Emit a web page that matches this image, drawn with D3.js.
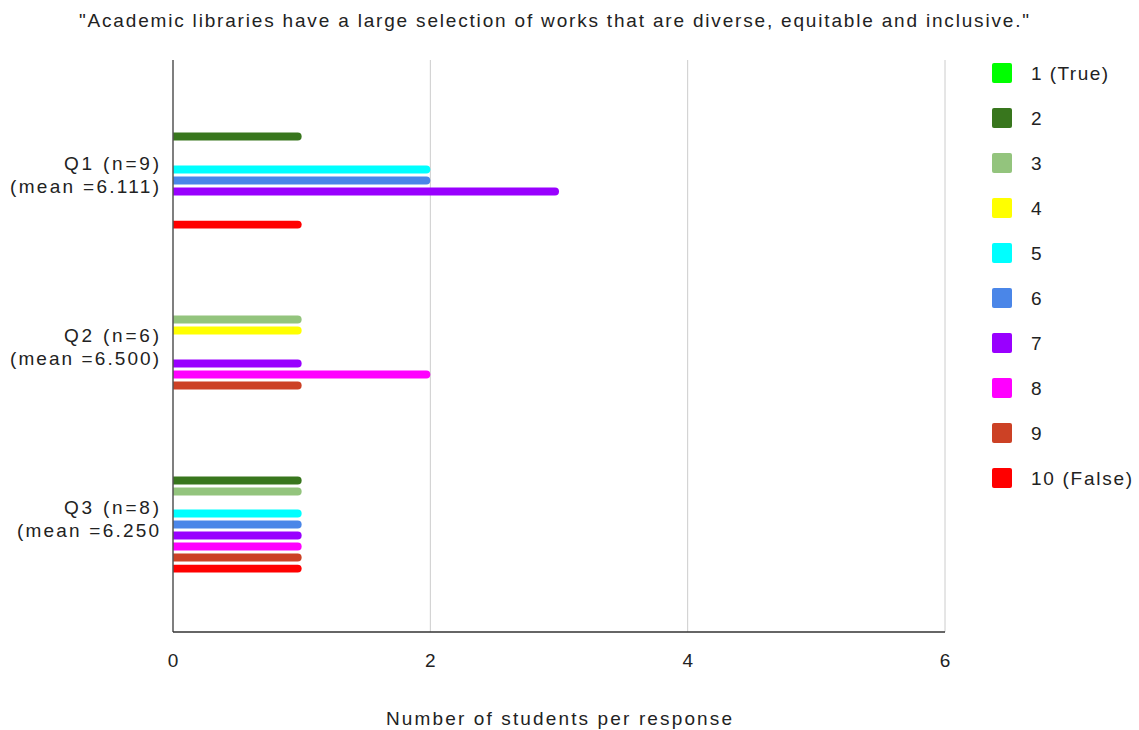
<!DOCTYPE html>
<html>
<head>
<meta charset="utf-8">
<script src="https://cdn.jsdelivr.net/npm/d3@7"></script>
<style>
  body { margin: 0; background: #fff; }
  text { font-family: Arial, "Liberation Sans", sans-serif; fill: #222; }
</style>
</head>
<body>
<div id="plot"></div>
<script>
// chart data
const questions = ["Q1", "Q2", "Q3"];
const questionLabels = [
    ["Q1 (n=9)", "(mean =6.111)"],
    ["Q2 (n=6)", "(mean =6.500)"],
    ["Q3 (n=8)", "(mean =6.250"]
];
const responses = ["1", "2", "3", "4", "5", "6", "7", "8", "9", "10"];
const responseLabels = ["1 (True)", "2", "3", "4", "5", "6", "7", "8", "9", "10 (False)"];
const responseColors = ["#00ff00", "#38761d", "#93c47d", "#ffff00", "#00ffff",
                        "#4a86e8", "#9900ff", "#ff00ff", "#cc4125", "#ff0000"];
// counts per response 1..10 for each question
const q1Counts = [0, 1, 0, 0, 2, 2, 3, 0, 0, 1];
const q2Counts = [0, 0, 1, 1, 0, 0, 1, 2, 1, 0];
const q3Counts = [0, 1, 1, 0, 1, 1, 1, 1, 1, 1];
const xTicks = [0, 2, 4, 6];

const title = "\"Academic libraries have a large selection of works that are diverse, equitable and inclusive.\"";
const xTitle = "Number of students per response";

const width = 1139;
const height = 730;
const plot = { left: 173, right: 945, top: 60, bottom: 632 };
const fontSize = "19px";

// the source text is rendered wider than Arial, so stretch the spacing
function fitWidth(sel, w) {
    sel.attr("textLength", w).attr("lengthAdjust", "spacing");
}

const svg = d3.select("div#plot")
    .append("svg")
    .attr("width", width)
    .attr("height", height);

const x = d3.scaleLinear().domain([0, 6]).range([plot.left, plot.right]);

const y0 = d3.scaleBand()
    .domain(questions)
    .range([89, 605])
    .paddingInner(0.341)
    .paddingOuter(0.1705);

const y1 = d3.scaleBand()
    .domain(responses)
    .range([0, y0.bandwidth()])
    .padding(0.28);

const color = d3.scaleOrdinal().domain(responses).range(responseColors);

// gridlines
svg.append("g")
    .selectAll("line")
    .data(xTicks.slice(1))
    .enter()
    .append("line")
    .attr("x1", d => x(d))
    .attr("x2", d => x(d))
    .attr("y1", plot.top)
    .attr("y2", plot.bottom)
    .style("stroke", "#cccccc")
    .style("stroke-width", 1);

// bars with a rounded end
const table = [q1Counts, q2Counts, q3Counts];
const bars = [];
questions.forEach((q, i) => {
    responses.forEach((r, j) => {
        if (table[i][j] > 0) bars.push({ q: q, r: r, v: table[i][j] });
    });
});

const bh = y1.bandwidth();
svg.append("g")
    .selectAll("path")
    .data(bars)
    .enter()
    .append("path")
    .attr("d", d => {
        const x0 = x(0);
        const x1 = x(d.v);
        const top = y0(d.q) + y1(d.r);
        const rad = bh / 2;
        return `M${x0},${top} L${x1 - rad},${top} A${rad},${rad} 0 0 1 ${x1 - rad},${top + bh} L${x0},${top + bh} Z`;
    })
    .style("fill", d => color(d.r));

// axes lines
svg.append("line")
    .attr("x1", plot.left).attr("x2", plot.left)
    .attr("y1", plot.top).attr("y2", plot.bottom)
    .style("stroke", "#555").style("stroke-width", 1.5);

svg.append("line")
    .attr("x1", plot.left).attr("x2", plot.right)
    .attr("y1", plot.bottom).attr("y2", plot.bottom)
    .style("stroke", "#333").style("stroke-width", 1.5);

// x tick labels
svg.append("g")
    .selectAll("text")
    .data(xTicks)
    .enter()
    .append("text")
    .attr("x", d => x(d))
    .attr("y", 667)
    .attr("text-anchor", "middle")
    .style("font-size", fontSize)
    .text(d => d);

// y labels
const line1Width = [95, 95, 95];
const line2Width = [149, 149, 142];
const yl = svg.append("g")
    .selectAll("text")
    .data(questions)
    .enter()
    .append("text")
    .attr("text-anchor", "end")
    .style("font-size", fontSize);

yl.append("tspan")
    .attr("x", 159)
    .attr("y", d => y0(d) + y0.bandwidth() / 2 - 5)
    .attr("textLength", (d, i) => line1Width[i])
    .attr("lengthAdjust", "spacing")
    .text((d, i) => questionLabels[i][0]);
yl.append("tspan")
    .attr("x", 159)
    .attr("y", d => y0(d) + y0.bandwidth() / 2 + 18)
    .attr("textLength", (d, i) => line2Width[i])
    .attr("lengthAdjust", "spacing")
    .text((d, i) => questionLabels[i][1]);

// title
svg.append("text")
    .attr("x", 554)
    .attr("y", 27)
    .attr("text-anchor", "middle")
    .style("font-size", fontSize)
    .text(title)
    .call(fitWidth, 950);

// x axis title
svg.append("text")
    .attr("x", 559)
    .attr("y", 725)
    .attr("text-anchor", "middle")
    .style("font-size", fontSize)
    .text(xTitle)
    .call(fitWidth, 346);

// legend
const legend = svg.append("g")
    .selectAll("g")
    .data(responses)
    .enter()
    .append("g")
    .attr("transform", (d, i) => `translate(992, ${63 + i * 45})`);

legend.append("rect")
    .attr("width", 20)
    .attr("height", 20)
    .attr("rx", 2)
    .style("fill", d => color(d));

legend.append("text")
    .attr("x", 39)
    .attr("y", 17)
    .style("font-size", fontSize)
    .text((d, i) => responseLabels[i])
    .each(function(d, i) {
        if (i === 0) d3.select(this).call(fitWidth, 77);
        if (i === 9) d3.select(this).call(fitWidth, 101);
    });
</script>
</body>
</html>
